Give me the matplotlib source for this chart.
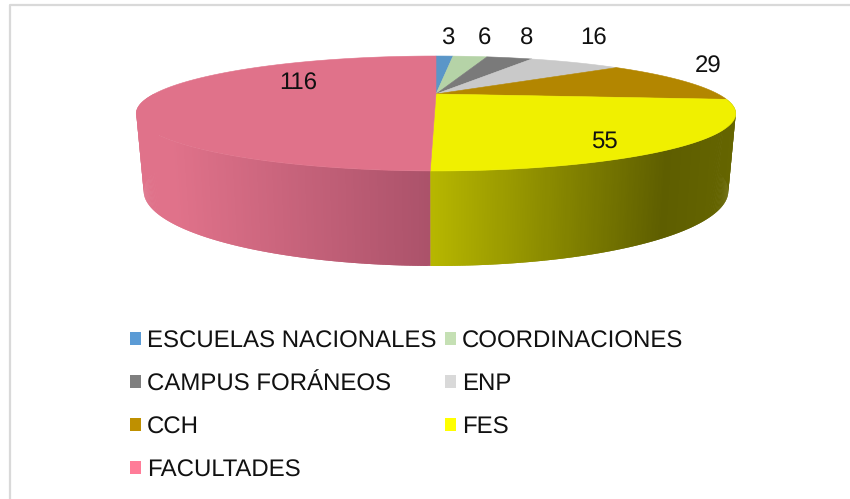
import numpy as np
import matplotlib
matplotlib.use("Agg")
import matplotlib.pyplot as plt
from matplotlib.patches import Patch
from matplotlib.colors import to_rgb

# ---- data ----
categories = ["ESCUELAS NACIONALES", "COORDINACIONES", "CAMPUS FORÁNEOS", "ENP",
              "CCH", "FES", "FACULTADES"]
values = [3, 6, 8, 16, 29, 55, 116]
top_colors = ["#5a96c8", "#b5d3a7", "#7a7a7a", "#c9c9c9", "#b38600", "#f0f000", "#e0728a"]
legend_colors = ["#5b9bd5", "#c5e0b4", "#7f7f7f", "#d9d9d9", "#bf9000", "#ffff00", "#ff7c98"]

FS = 17.4
plt.rcParams['font.family'] = ['Liberation Sans', 'DejaVu Sans']
plt.rcParams['text.hinting'] = 'none'
plt.rcParams['text.hinting_factor'] = 1

fig = plt.figure(figsize=(8.5, 4.99), dpi=100)
ax = fig.add_axes([0, 0, 1, 1])
ax.set_xlim(0, 850)
ax.set_ylim(499, 0)
ax.axis("off")

# perspective view of the disc
K = 0.339


def rim(theta, cx, ax_, y0, by):
    """theta clockwise from the top of the disc, radians"""
    X, Y = np.sin(theta), np.cos(theta)
    d = 1 + K * Y
    return cx + ax_ * X / d, (y0 + by * Y) / d


def top(theta):
    return rim(theta, 436, 282, 94, -19)


def bottom(theta):
    return rim(theta, 436, 275, 165.5, -10.3)


edges = 2 * np.pi * np.concatenate([[0], np.cumsum(values)]) / np.sum(values)

# side wall, shaded in narrow overlapping strips
wall_stops = {
    5: ([430, 667, 735], ["#b8b800", "#5e5e00", "#656500"]),
    6: ([135, 172, 430], ["#e0728a", "#e0728a", "#ab526a"]),
}
side_limit = 0.35
for i, (xs, cs) in wall_stops.items():
    # only the front part of the wall is visible
    lo = max(edges[i], np.arccos(-K) - side_limit)
    hi = min(edges[i + 1], 2 * np.pi - np.arccos(-K) + side_limit)
    thetas = np.linspace(lo, hi, 240)
    rgb = np.array([to_rgb(c) for c in cs])
    for j in range(len(thetas) - 1):
        seg = np.linspace(thetas[j], thetas[min(j + 2, len(thetas) - 1)], 4)
        xt, yt = top(seg)
        xb, yb = bottom(seg)
        xm = top(thetas[j:j + 2])[0].mean()
        col = [np.interp(xm, xs, rgb[:, c]) for c in range(3)]
        ax.fill(np.r_[xt, xb[::-1]], np.r_[yt, yb[::-1]], facecolor=col, edgecolor="none", zorder=2)

# top face
for i, c in enumerate(top_colors):
    th = np.linspace(edges[i], edges[i + 1], 200)
    x, y = top(th)
    ax.fill(np.r_[436, x], np.r_[94, y], color=c, lw=0.4, zorder=3)

# data labels
label_pos = [(448, 39), (484, 39), (527, 39), (594, 39), (708, 67), (604, 142), (298, 84)]
for v, (lx, ly) in zip(values, label_pos):
    ax.text(lx, ly, str(v), ha="center", va="center", fontsize=FS, color="#111111", zorder=5)

# chart frame
ax.plot([10, 10, 850], [499, 5, 5], color="#d9d9d9", lw=1.6, zorder=1)

# legend (two columns, filled column by column)
order = [0, 2, 4, 6, 1, 3, 5]
handles = [Patch(facecolor=legend_colors[i], label=categories[i]) for i in order]
ax.legend(handles=handles, ncol=2, loc="upper left", bbox_to_anchor=(130, 330),
          bbox_transform=ax.transData, frameon=False, fontsize=FS,
          handlelength=0.46, handleheight=0.46, handletextpad=0.25,
          labelspacing=0.855, columnspacing=0.33, borderpad=0, borderaxespad=0,
          labelcolor="#111111")

fig.savefig("out.png", dpi=100, facecolor="white")
